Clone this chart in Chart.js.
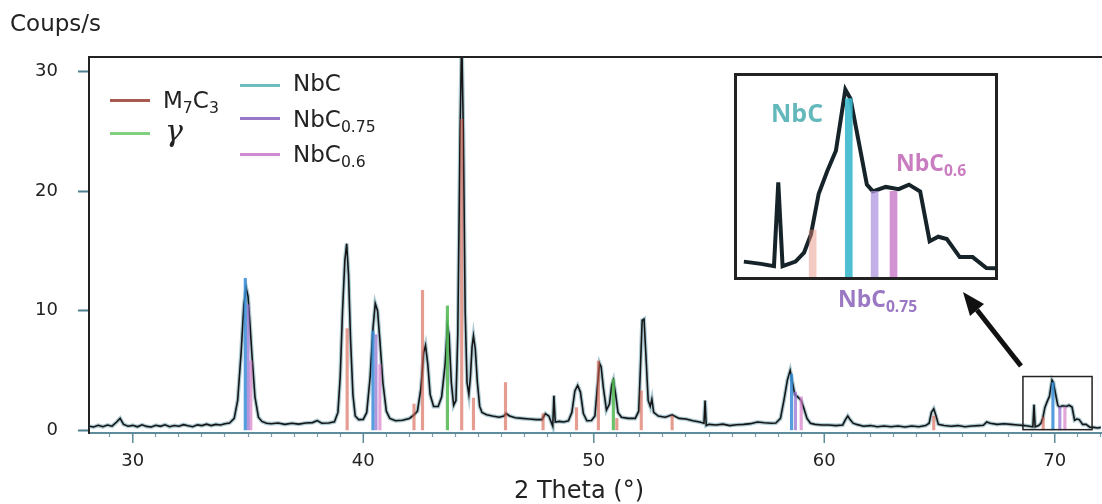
<!DOCTYPE html>
<html>
<head>
<meta charset="utf-8">
<title>Diffractogramme</title>
<script src="https://cdn.jsdelivr.net/npm/chart.js@4.4.1/dist/chart.umd.min.js"></script>
<style>
  body { margin: 0; background: #fff; }
  #wrap { position: relative; width: 1102px; height: 504px; overflow: hidden; font-family: 'DejaVu Sans', sans-serif; color: #222; }
  #main { position: absolute; left: 0; top: 0; }
  .txt { position: absolute; white-space: nowrap; line-height: 1; }
  .sub { position: relative; top: 0.32em; font-size: 0.68em; }
  .key { position: absolute; width: 40px; height: 3px; }
  #inset { position: absolute; left: 734px; top: 73px; width: 264px; height: 207px; border: 3px solid #222; box-sizing: border-box; background: #fff; overflow: hidden; }
  #insetCanvas { filter: blur(0.6px); }
  .tag { position: absolute; font-family: 'Open Sans', sans-serif; font-weight: 700; line-height: 1; white-space: nowrap; }
  #arrow { position: absolute; left: 0; top: 0; }
</style>
</head>
<body>
<div id="wrap">
  <canvas id="main" width="1102" height="504"></canvas>

  <div class="txt" style="left:10px; top:12px; font-size:23px;">Coups/s</div>
  <div class="txt" style="left:514px; top:478px; font-size:24px;">2 Theta (°)</div>

  <!-- legend -->
  <div class="key" style="left:110px; top:99px; background:#a95a50;"></div>
  <div class="txt" style="left:163px; top:89px; font-size:23px;">M<span class="sub">7</span>C<span class="sub">3</span></div>
  <div class="key" style="left:110px; top:132px; background:#82cf7e;"></div>
  <div class="txt" style="left:165px; top:116px; font-size:30px; font-family:'DejaVu Serif', serif; font-style:italic;">γ</div>
  <div class="key" style="left:240px; top:84px; background:#6cbcc0;"></div>
  <div class="txt" style="left:293px; top:72px; font-size:23px;">NbC</div>
  <div class="key" style="left:240px; top:117px; background:#9a78c8;"></div>
  <div class="txt" style="left:293px; top:108px; font-size:23px;">NbC<span class="sub">0.75</span></div>
  <div class="key" style="left:240px; top:153px; background:#d08cd0;"></div>
  <div class="txt" style="left:293px; top:143px; font-size:23px;">NbC<span class="sub">0.6</span></div>

  <div id="inset"><canvas id="insetCanvas" width="258" height="201"></canvas></div>
  <div class="tag" style="left:771px; top:100px; font-size:25px; color:#63b8bb;">NbC</div>
  <div class="tag" style="left:896px; top:151px; font-size:23px; color:#c97cbf;">NbC<span class="sub">0.6</span></div>
  <div class="tag" style="left:838px; top:287px; font-size:23px; color:#9b78c4;">NbC<span class="sub">0.75</span></div>

  <svg id="arrow" width="1102" height="504">
    <line x1="1021" y1="366" x2="977" y2="310" stroke="#111" stroke-width="5"/>
    <polygon points="963,292 984,304 970,316" fill="#111"/>
  </svg>
</div>

<script>
// measured pattern (2 theta in degrees, counts per second)
const THETA = [
  28.1, 28.3, 28.5, 28.7, 28.9, 29.1, 29.3, 29.45, 29.6, 29.8,
  30.0, 30.2, 30.4, 30.6, 30.8, 31.0, 31.2, 31.4, 31.6, 31.8,
  32.0, 32.2, 32.4, 32.6, 32.8, 33.0, 33.2, 33.4, 33.6, 33.8,
  34.0, 34.2, 34.4, 34.55, 34.7, 34.82, 34.92, 35.0, 35.08, 35.18, 35.3, 35.45, 35.6, 35.8,
  36.0, 36.3, 36.6, 36.9, 37.2, 37.5, 37.8, 38.0, 38.2, 38.5, 38.75, 38.9,
  39.0, 39.1, 39.2, 39.28, 39.36, 39.45, 39.55, 39.65, 39.8,
  40.0, 40.15, 40.3, 40.42, 40.52, 40.62, 40.72, 40.85,
  41.0, 41.15, 41.4, 41.7, 42.0, 42.2, 42.35, 42.5, 42.62, 42.7, 42.8, 42.9,
  43.05, 43.25, 43.4, 43.55, 43.65, 43.72, 43.82, 43.92,
  44.02, 44.1, 44.2, 44.27, 44.34, 44.42, 44.5, 44.58, 44.65, 44.72, 44.78, 44.86, 44.95,
  45.05, 45.15, 45.35, 45.6, 45.9, 46.1, 46.2, 46.35, 46.6, 46.9,
  47.2, 47.5, 47.75, 47.9, 48.05, 48.15, 48.22, 48.27, 48.33, 48.5, 48.7, 48.9,
  49.05, 49.18, 49.3, 49.42, 49.55, 49.7, 49.9,
  50.05, 50.15, 50.25, 50.32, 50.42, 50.55, 50.68, 50.78, 50.85, 50.95,
  51.05, 51.2, 51.5, 51.8, 51.95, 52.02, 52.1, 52.18, 52.27, 52.36, 52.45, 52.52, 52.6, 52.8,
  53.1, 53.4, 53.7, 54.0, 54.3, 54.6, 54.78, 54.83, 54.88,
  55.0, 55.3, 55.6, 55.9, 56.2, 56.5, 56.8, 57.1, 57.4, 57.7, 57.9,
  58.1, 58.25, 58.4, 58.52, 58.62, 58.72, 58.85, 59.0, 59.12, 59.25, 59.4, 59.6, 59.9,
  60.2, 60.5, 60.8, 60.92, 61.02, 61.12, 61.25, 61.4, 61.7,
  62.0, 62.3, 62.6, 62.9, 63.2, 63.5, 63.8, 64.1, 64.4, 64.55, 64.65, 64.75, 64.85, 64.95,
  65.2, 65.5, 65.8, 66.1, 66.4, 66.7, 66.9, 67.05, 67.2, 67.5, 67.8, 68.1, 68.4, 68.7, 68.9,
  69.05, 69.1, 69.15, 69.3, 69.4, 69.48, 69.57, 69.67, 69.77, 69.88, 69.94,
  70.03, 70.13, 70.2, 70.35, 70.5, 70.62, 70.75, 70.86, 70.96,
  71.06, 71.21, 71.36, 71.52, 71.7, 71.85, 72.0
];
const COUNTS = [
  0.35, 0.28, 0.42, 0.3, 0.45, 0.35, 0.7, 1.0, 0.5, 0.35,
  0.42, 0.3, 0.46, 0.33, 0.28, 0.42, 0.34, 0.47, 0.3, 0.4,
  0.35, 0.48, 0.38, 0.3, 0.46, 0.4, 0.52, 0.4, 0.5, 0.45,
  0.55, 0.62, 1.0, 2.5, 6.5, 10.5, 11.9, 11.2, 9.0, 6.0, 2.8, 1.1, 0.75, 0.6,
  0.55, 0.62, 0.5, 0.6, 0.52, 0.62, 0.65, 0.82, 0.6, 0.62, 0.72, 1.5,
  4.5, 10.0, 14.2, 15.6, 13.0, 7.5, 3.0, 1.2, 0.9,
  0.92, 1.5, 4.5, 8.5, 10.6, 10.0, 7.5, 4.0,
  1.6, 1.0, 0.8, 0.85, 1.0, 1.3, 1.6, 3.5, 6.5, 7.1, 5.5, 3.0,
  2.0, 2.0, 2.8, 5.5, 8.7, 8.0, 4.0, 2.1,
  2.5, 8.0, 25, 33, 25, 10, 4.0, 3.0, 4.5, 7.0, 7.9, 6.8, 4.0,
  2.0, 1.5, 1.3, 1.2, 1.1, 1.2, 1.4, 1.2, 1.05, 1.0,
  0.95, 0.9, 0.9, 1.4, 1.2, 0.7, 0.35, 2.9, 0.7, 0.75, 0.7, 0.8,
  1.5, 3.3, 3.75, 3.2, 1.4, 0.8, 0.82,
  1.2, 3.5, 5.6, 5.3, 3.5, 1.7, 2.2, 3.8, 4.2, 3.0,
  1.5, 1.1, 1.0, 1.0, 1.6, 5.0, 9.2, 9.3, 6.0, 2.5, 2.0, 2.6, 1.5, 1.2,
  1.1, 1.3, 1.0, 0.95, 0.8, 0.7, 0.6, 2.5, 0.4,
  0.5, 0.45, 0.52, 0.4, 0.47, 0.5, 0.56, 0.7, 0.64, 0.6, 0.62,
  1.0, 2.5, 4.2, 5.0, 4.0, 3.0, 2.8, 2.5, 1.8, 1.0, 0.6, 0.5, 0.45,
  0.45, 0.4, 0.45, 0.9, 1.2, 0.9, 0.6, 0.5, 0.35,
  0.4, 0.3, 0.36, 0.3, 0.36, 0.28, 0.36, 0.3, 0.4, 0.6, 1.5, 1.8, 1.2, 0.5,
  0.4, 0.35, 0.4, 0.3, 0.36, 0.4, 0.42, 0.7, 0.6, 0.5, 0.55, 0.5, 0.45, 0.4, 0.35,
  0.3, 2.15, 0.3, 0.4, 0.6, 1.0, 1.9, 2.4, 2.85, 4.2, 4.0,
  3.1, 2.1, 1.95, 2.05, 2.0, 2.1, 1.95, 0.85, 0.95,
  0.9, 0.5, 0.5, 0.26, 0.25, 0.2, 0.25
];

// reference lines of each phase (position, relative height on the count scale)
const M7C3_POS = [39.3, 42.2, 42.57, 44.27, 44.78, 46.17, 47.8, 49.25, 50.2, 51.0, 52.06, 53.4, 64.75, 69.5];
const M7C3_INT = [8.5, 2.2, 11.7, 26, 2.7, 4.0, 1.4, 1.9, 5.8, 1.0, 3.3, 1.2, 1.2, 1.1];
const GAMMA_POS = [43.65, 50.85];
const GAMMA_INT = [10.4, 4.3];
const NBC_POS = [34.88, 40.42, 58.58, 69.92];
const NBC_INT = [12.7, 8.3, 4.7, 4.0];
const NBC075_POS = [35.0, 40.55, 58.75, 70.22];
const NBC075_INT = [10.5, 8.0, 3.2, 1.95];
const NBC06_POS = [35.12, 40.72, 59.0, 70.44];
const NBC06_INT = [5.8, 5.5, 2.8, 1.95];

const X_LABELS = [30, 40, 50, 60, 70];
const Y_LABELS = [0, 10, 20, 30];
const X_RANGE = [28.1, 72.05];
const Y_RANGE = [-0.22, 31.2];
const ZOOM_X = [68.62, 71.62];
const ZOOM_Y = [0.06, 4.5];

Chart.defaults.font.family = "'DejaVu Sans', sans-serif";
Chart.defaults.color = '#222';

const trace = THETA.map((t, i) => ({ x: t, y: COUNTS[i] }));
const phases = [
  { pos: M7C3_POS, int: M7C3_INT, color: 'rgba(214,92,72,0.6)', inset: 'rgba(230,140,120,0.45)' },
  { pos: GAMMA_POS, int: GAMMA_INT, color: 'rgba(80,185,80,0.85)', inset: 'rgba(80,185,80,0.6)' },
  { pos: NBC_POS, int: NBC_INT, color: 'rgba(55,140,215,0.85)', inset: 'rgba(60,185,205,0.9)' },
  { pos: NBC075_POS, int: NBC075_INT, color: 'rgba(150,115,210,0.75)', inset: 'rgba(175,150,225,0.75)' },
  { pos: NBC06_POS, int: NBC06_INT, color: 'rgba(215,125,200,0.7)', inset: 'rgba(200,120,200,0.8)' }
];

function stickSets(thick, key, xr) {
  return phases.map(p => ({
    type: 'bar',
    data: p.pos.map((x, i) => ({ x: x, y: p.int[i] }))
              .filter(d => !xr || (d.x >= xr[0] && d.x <= xr[1])),
    backgroundColor: p[key],
    barThickness: thick,
    grouped: false,
    base: 0,
    order: 0
  }));
}

const frame = {
  id: 'frame',
  afterDraw(chart) {
    const { ctx, chartArea: a, scales: { x, y } } = chart;
    ctx.save();
    ctx.strokeStyle = '#222';
    ctx.lineWidth = 2;
    ctx.beginPath();
    ctx.moveTo(a.left, a.top);
    ctx.lineTo(a.right, a.top);
    ctx.stroke();
    // longer ticks at labelled values
    ctx.strokeStyle = '#5f8c9b';
    ctx.lineWidth = 1.5;
    X_LABELS.forEach(v => {
      const px = x.getPixelForValue(v);
      ctx.beginPath();
      ctx.moveTo(px, a.bottom);
      ctx.lineTo(px, a.bottom + 10);
      ctx.stroke();
    });
    // zoom window
    const l = x.getPixelForValue(ZOOM_X[0]), r = x.getPixelForValue(ZOOM_X[1]);
    const t = y.getPixelForValue(ZOOM_Y[1]), b = y.getPixelForValue(ZOOM_Y[0]);
    ctx.strokeStyle = '#222';
    ctx.lineWidth = 1.5;
    ctx.strokeRect(l, t, r - l, b - t);
    ctx.restore();
  }
};

new Chart(document.getElementById('main'), {
  type: 'line',
  data: {
    datasets: [
      ...stickSets(2.5, 'color'),
      { data: trace, borderColor: '#151515', borderWidth: 1.6, pointRadius: 0, tension: 0, order: 1 },
      { data: trace, borderColor: 'rgba(75,140,160,0.45)', borderWidth: 4, pointRadius: 0, tension: 0, order: 2 }
    ]
  },
  options: {
    responsive: false,
    animation: false,
    layout: { padding: { top: 57, left: 0, right: 0, bottom: 0 } },
    plugins: { legend: { display: false }, tooltip: { enabled: false } },
    scales: {
      x: {
        type: 'linear',
        min: X_RANGE[0], max: X_RANGE[1],
        offset: false,
        afterFit: s => { s.height = 71; s.paddingLeft = 0; s.paddingRight = 0; },
        border: { color: '#5f8c9b', width: 2 },
        grid: { drawOnChartArea: false, offset: false, tickLength: 4, tickColor: '#7a9fab', tickWidth: 1.2 },
        ticks: {
          stepSize: 1, autoSkip: false, maxRotation: 0, includeBounds: false, padding: 14,
          font: { size: 18 }, color: '#222',
          callback: v => X_LABELS.includes(v) ? v : ''
        }
      },
      y: {
        min: Y_RANGE[0], max: Y_RANGE[1],
        afterFit: s => { s.width = 89; s.paddingTop = 0; s.paddingBottom = 0; },
        border: { color: '#222', width: 2 },
        grid: { drawOnChartArea: false, tickLength: 11, tickColor: '#4d7f90', tickWidth: 2 },
        ticks: {
          stepSize: 10, includeBounds: false, padding: 20,
          font: { size: 18 }, color: '#222',
          callback: v => Y_LABELS.includes(v) ? v : ''
        }
      }
    }
  },
  plugins: [frame]
});

// enlarged window of the 68-72 degree region
const zoomTrace = trace.filter(d => d.x >= ZOOM_X[0] - 0.1 && d.x <= ZOOM_X[1] + 0.1);
new Chart(document.getElementById('insetCanvas'), {
  type: 'line',
  data: {
    datasets: [
      ...stickSets(7, 'inset', ZOOM_X),
      { data: zoomTrace, borderColor: '#16242a', borderWidth: 4, pointRadius: 0, tension: 0, order: 1 }
    ]
  },
  options: {
    responsive: false,
    animation: false,
    layout: { padding: 0 },
    plugins: { legend: { display: false }, tooltip: { enabled: false } },
    scales: {
      x: { type: 'linear', display: false, min: ZOOM_X[0], max: ZOOM_X[1], offset: false },
      y: { display: false, min: ZOOM_Y[0], max: ZOOM_Y[1] }
    }
  }
});
</script>
</body>
</html>
